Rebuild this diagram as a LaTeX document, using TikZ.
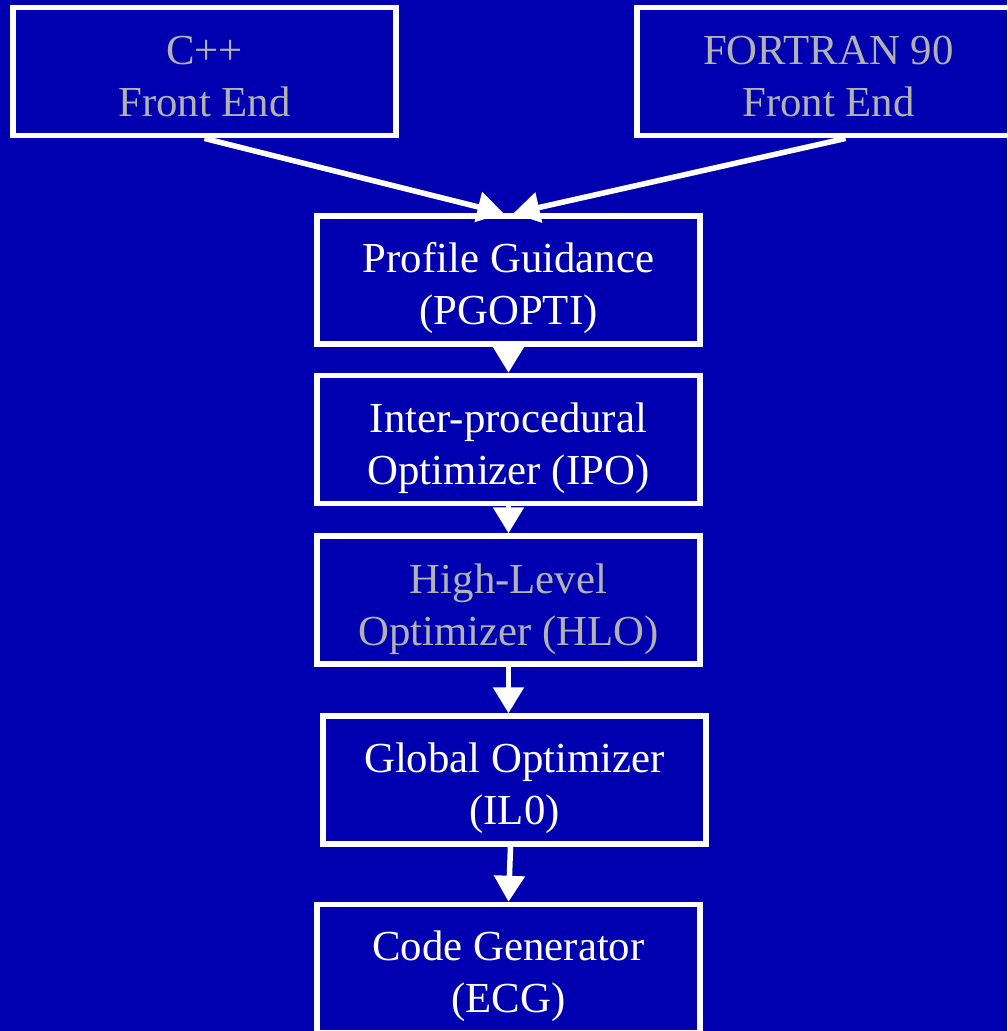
\documentclass[tikz,border=0pt]{standalone}
\usepackage{fontspec}
\setmainfont{Liberation Serif}
\usetikzlibrary{arrows.meta}
\definecolor{bgblue}{RGB}{0,0,176}
\definecolor{dimtext}{RGB}{178,178,178}

\begin{document}
\begin{tikzpicture}[x=1pt,y=-1pt,
  stage/.style={draw=white, line width=5.5pt, minimum width=383pt,
    minimum height=128pt, inner sep=0pt},
  stagetext/.style={font=\fontsize{42.8}{52}\selectfont, align=center,
    text=white, inner sep=0pt},
  dimmed/.style={text=dimtext},
  flow/.style={draw=white, line width=5.5pt,
    -{Triangle[length=26pt,width=30pt]}}]

  % page and backdrop
  \useasboundingbox (0,0) rectangle (1007,1031);
  \fill[bgblue] (0,0) rectangle (1007,1031);

  % front ends
  \node[stage, label={[stagetext,dimmed,yshift=-4.5pt]center:{C++\\Front End}}]
    (cpp) at (204.5,71.7) {};
  \node[stage, label={[stagetext,dimmed,yshift=-4.5pt]center:{FORTRAN 90\\Front End}}]
    (ftn) at (828.5,71.7) {};

  % optimisation pipeline
  \node[stage, label={[stagetext,yshift=-8pt]center:{Profile Guidance\\(PGOPTI)}}]
    (pgo) at (508.5,280) {};
  \node[stage, label={[stagetext,yshift=-9pt]center:{Inter-procedural\\Optimizer (IPO)}}]
    (ipo) at (508.5,439.5) {};
  \node[stage, label={[stagetext,dimmed,yshift=-9pt]center:{High-Level\\Optimizer (HLO)}}]
    (hlo) at (508.5,600) {};
  \node[stage, label={[stagetext,yshift=-8pt]center:{Global Optimizer\\(IL0)}}]
    (glo) at (514.5,780) {};
  \node[stage, label={[stagetext,yshift=-8pt]center:{Code Generator\\(ECG)}}]
    (ecg) at (508.5,968.5) {};

  % connectors
  \draw[flow] (cpp.south) -- ([xshift=-5pt]pgo.north);
  \draw[flow] ([xshift=17pt]ftn.south) -- ([xshift=5pt]pgo.north);
  \draw[flow] (pgo.south) -- (ipo.north);
  \draw[flow] (ipo.south) -- (hlo.north);
  \draw[flow] (hlo.south) -- (hlo.south |- glo.north);
  \draw[flow] ([xshift=-4pt]glo.south) -- (ecg.north);
\end{tikzpicture}
\end{document}
